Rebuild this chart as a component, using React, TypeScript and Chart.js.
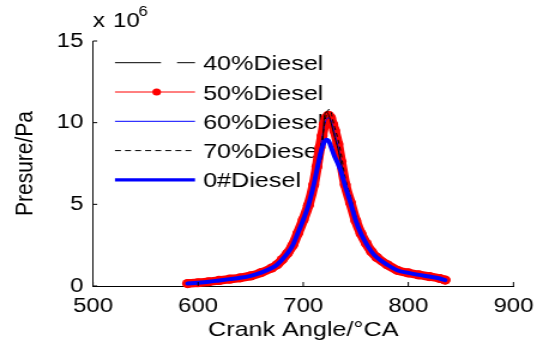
import { useEffect, useRef } from 'react';
import { Chart, registerables } from 'chart.js';

Chart.register(...registerables);

// Crank angle (°CA)
const CRANK_ANGLE = [590, 600, 610, 620, 630, 640, 650, 660, 670, 675, 680, 685, 690, 695, 700, 705, 710, 713, 716, 718, 720, 722, 724, 726, 728, 730, 733, 736, 740, 745, 750, 755, 760, 765, 770, 780, 790, 800, 810, 820, 830, 835];

// Pressure, in units of 10^6 Pa
const P_40 = [0.15, 0.2, 0.26, 0.34, 0.42, 0.5, 0.62, 0.82, 1.1, 1.3, 1.62, 2.0, 2.5, 3.25, 4.05, 4.95, 6.2, 7.0, 7.6, 8.1, 10.3, 10.65, 10.5, 10.1, 9.6, 9.1, 8.4, 7.5, 6.2, 5.1, 4.0, 3.2, 2.6, 2.1, 1.75, 1.3, 0.95, 0.8, 0.68, 0.58, 0.46, 0.36];
const P_50 = [0.15, 0.2, 0.26, 0.34, 0.42, 0.5, 0.62, 0.82, 1.1, 1.3, 1.62, 2.0, 2.5, 3.25, 4.05, 4.95, 6.2, 7.3, 8.5, 9.2, 9.9, 10.3, 10.45, 10.3, 9.9, 9.5, 8.7, 7.6, 6.2, 5.1, 4.0, 3.2, 2.6, 2.1, 1.75, 1.3, 0.95, 0.8, 0.68, 0.58, 0.46, 0.36];
const P_60 = [0.15, 0.2, 0.26, 0.34, 0.42, 0.5, 0.62, 0.82, 1.1, 1.3, 1.62, 2.0, 2.5, 3.25, 4.05, 4.95, 6.2, 7.3, 8.4, 9.1, 9.8, 10.2, 10.3, 10.2, 9.8, 9.3, 8.6, 7.6, 6.2, 5.1, 4.0, 3.2, 2.6, 2.1, 1.75, 1.3, 0.95, 0.8, 0.68, 0.58, 0.46, 0.36];
const P_70 = [0.15, 0.2, 0.26, 0.34, 0.42, 0.5, 0.62, 0.82, 1.1, 1.3, 1.62, 2.0, 2.5, 3.25, 4.05, 4.95, 6.2, 7.2, 8.3, 9.0, 9.8, 10.5, 10.8, 10.75, 10.2, 9.7, 9.0, 8.1, 6.6, 5.5, 4.3, 3.35, 2.7, 2.15, 1.78, 1.3, 0.95, 0.8, 0.68, 0.58, 0.46, 0.36];
const P_0 = [0.15, 0.2, 0.26, 0.34, 0.42, 0.5, 0.62, 0.82, 1.1, 1.3, 1.62, 2.0, 2.5, 3.25, 4.05, 4.95, 6.2, 7.1, 8.0, 8.45, 8.8, 8.95, 8.9, 8.6, 8.25, 7.9, 7.5, 7.0, 6.1, 5.1, 4.0, 3.2, 2.6, 2.1, 1.75, 1.3, 0.95, 0.8, 0.68, 0.58, 0.46, 0.36];

const LABELS = ['40%Diesel', '50%Diesel', '60%Diesel', '70%Diesel', '0#Diesel'];
const X_TICKS = [500, 600, 700, 800, 900];
const Y_TICKS = [0, 5, 10, 15];

const FONT = "'Liberation Sans', Arial, Helvetica, sans-serif";
const CW = 453;
const CH = 343;

const pts = (ys: number[]) => CRANK_ANGLE.map((x, i) => ({ x, y: ys[i] }));

const overlay = {
  id: 'overlay',
  beforeDatasetsDraw(chart: any) {
    const ctx = chart.ctx as CanvasRenderingContext2D;
    ctx.save();
    const x0 = 95.9;
    const x1 = 162.7;
    const tx = 169.4;
    const rowY = (i: number) => 62.7 + i * 29.3;
    ctx.font = `21px ${FONT}`;
    ctx.fillStyle = '#000';
    ctx.textBaseline = 'alphabetic';
    ctx.textAlign = 'left';
    LABELS.forEach((lab, i) => {
      const y = rowY(i);
      ctx.beginPath();
      ctx.setLineDash([]);
      if (i === 0) {
        ctx.strokeStyle = '#000';
        ctx.lineWidth = 1;
        ctx.moveTo(x0, y); ctx.lineTo(134.3, y);
        ctx.moveTo(147.7, y); ctx.lineTo(x1, y);
        ctx.stroke();
      } else if (i === 1) {
        ctx.strokeStyle = '#ff0000';
        ctx.lineWidth = 1;
        ctx.moveTo(x0, y); ctx.lineTo(x1, y);
        ctx.stroke();
        ctx.beginPath();
        ctx.fillStyle = '#ff0000';
        ctx.arc(130.7, y, 3.6, 0, Math.PI * 2);
        ctx.fill();
        ctx.fillStyle = '#000';
      } else if (i === 2) {
        ctx.strokeStyle = '#0000ff';
        ctx.lineWidth = 1;
        ctx.moveTo(x0, y); ctx.lineTo(x1, y);
        ctx.stroke();
      } else if (i === 3) {
        ctx.strokeStyle = '#000';
        ctx.lineWidth = 1;
        ctx.setLineDash([5, 3.4]);
        ctx.moveTo(x0, y); ctx.lineTo(x1, y);
        ctx.stroke();
        ctx.setLineDash([]);
      } else {
        ctx.strokeStyle = '#0000ff';
        ctx.lineWidth = 3.3;
        ctx.moveTo(x0, y); ctx.lineTo(x1, y);
        ctx.stroke();
      }
      ctx.fillText(lab, tx, y + 7.5);
    });
    ctx.restore();
  },
  afterDraw(chart: any) {
    const ctx = chart.ctx as CanvasRenderingContext2D;
    const { left, bottom } = chart.chartArea;
    const xs = chart.scales.x;
    const ys = chart.scales.y;
    ctx.save();
    ctx.strokeStyle = '#000';
    ctx.lineWidth = 1;
    X_TICKS.forEach((t) => {
      const x = xs.getPixelForValue(t);
      ctx.beginPath();
      ctx.moveTo(x, bottom);
      ctx.lineTo(x, bottom - 4);
      ctx.stroke();
    });
    Y_TICKS.forEach((t) => {
      const y = ys.getPixelForValue(t);
      ctx.beginPath();
      ctx.moveTo(left, y);
      ctx.lineTo(left + 3.5, y);
      ctx.stroke();
    });
    ctx.fillStyle = '#000';
    ctx.textBaseline = 'alphabetic';
    ctx.textAlign = 'left';
    ctx.font = `20px ${FONT}`;
    ctx.fillText('x', 77.6, 27);
    ctx.fillText('10', 94.3, 27);
    ctx.font = `14px ${FONT}`;
    ctx.fillText('6', 115.5, 15.5);
    ctx.restore();
  },
};

export default function App() {
  const ref = useRef<HTMLCanvasElement>(null);
  useEffect(() => {
    document.body.style.margin = '0';
    Chart.defaults.font.family = FONT;
    Chart.defaults.color = '#000';
    const chart = new Chart(ref.current as HTMLCanvasElement, {
      type: 'line',
      data: {
        datasets: [
          { label: LABELS[0], data: pts(P_40), borderColor: '#000000', borderWidth: 1, pointRadius: 0, order: 2 },
          { label: LABELS[1], data: pts(P_50), borderColor: '#ff0000', borderWidth: 8.5, pointRadius: 4.6, pointBackgroundColor: '#ff0000', pointBorderWidth: 0, borderJoinStyle: 'round', borderCapStyle: 'round', order: 5, clip: false },
          { label: LABELS[2], data: pts(P_60), borderColor: '#0000ff', borderWidth: 1, pointRadius: 0, order: 3 },
          { label: LABELS[3], data: pts(P_70), borderColor: '#000000', borderWidth: 1, borderDash: [4, 3], pointRadius: 0, order: 1 },
          { label: LABELS[4], data: pts(P_0), borderColor: '#0000ff', borderWidth: 4, pointRadius: 0, borderJoinStyle: 'round', borderCapStyle: 'round', order: 0, clip: false },
        ] as any,
      },
      options: {
        responsive: false,
        animation: false,
        devicePixelRatio: 1,
        layout: { padding: { left: 0, right: 24.2, top: 41, bottom: 0 } },
        elements: { line: { cubicInterpolationMode: 'monotone' } },
        plugins: { legend: { display: false }, tooltip: { enabled: false } },
        scales: {
          x: {
            type: 'linear',
            min: 500,
            max: 900,
            afterBuildTicks: (s: any) => { s.ticks = X_TICKS.map((v) => ({ value: v })); },
            ticks: { font: { size: 20 }, color: '#000', padding: 8, maxRotation: 0, autoSkip: false },
            grid: { display: false, drawTicks: false },
            border: { display: true, color: '#000', width: 1 },
            title: { display: true, text: 'Crank Angle/°CA', font: { size: 21 }, color: '#000', padding: { top: 0, bottom: 0 } },
            afterFit: (s: any) => { s.height = 57; },
          },
          y: {
            type: 'linear',
            min: 0,
            max: 15,
            afterBuildTicks: (s: any) => { s.ticks = Y_TICKS.map((v) => ({ value: v })); },
            ticks: { font: { size: 20 }, color: '#000', padding: 8 },
            grid: { display: false, drawTicks: false },
            border: { display: true, color: '#000', width: 1 },
            title: { display: true, text: 'Presure/Pa', font: { size: 21 }, color: '#000', padding: { top: 9, bottom: 0 } },
            afterFit: (s: any) => { s.width = 77.6; },
          },
        },
      },
      plugins: [overlay],
    });
    return () => chart.destroy();
  }, []);
  return (
    <div style={{ width: 543, height: 343 }}>
      <canvas ref={ref} width={CW} height={CH} style={{ width: '543px', height: '343px', display: 'block' }} />
    </div>
  );
}
